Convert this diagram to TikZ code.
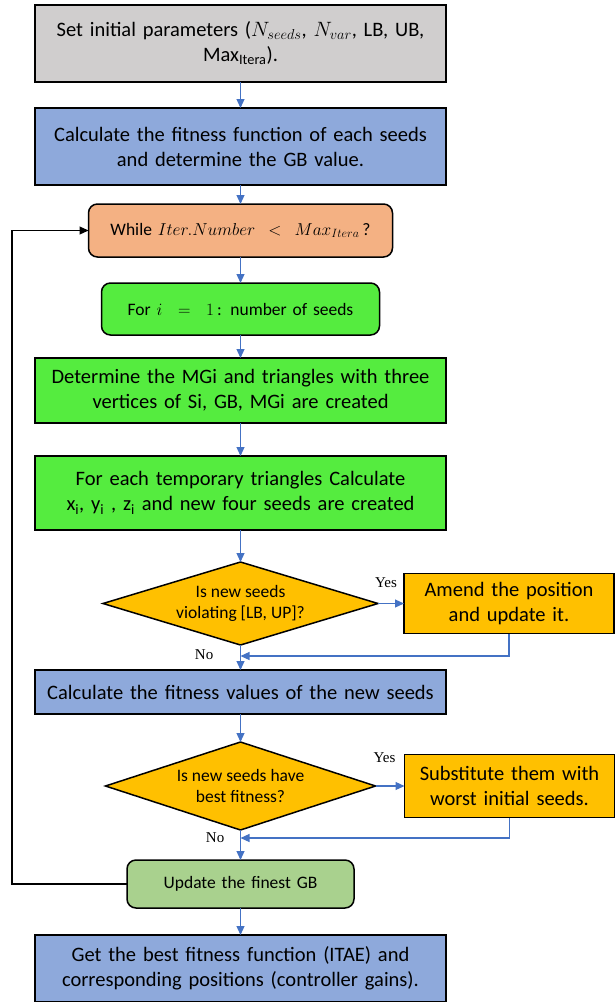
\documentclass[tikz,border=0pt]{standalone}
\usepackage{fontspec}
\setmainfont{Carlito}
\newfontfamily\serifnote{Liberation Serif}
\usepackage{tikz}
\usetikzlibrary{arrows.meta, positioning, shapes.geometric}
\definecolor{initgrey}{HTML}{D0CECE}
\definecolor{calcblue}{HTML}{8EA9DB}
\definecolor{loopsalmon}{HTML}{F4B183}
\definecolor{seedgreen}{HTML}{55EC3F}
\definecolor{checkamber}{HTML}{FFC000}
\definecolor{updategreen}{HTML}{A9D18E}
\definecolor{arrowblue}{HTML}{4472C4}
\tikzset{
  box/.style={draw=black, line width=1.5pt, align=center, inner sep=4pt,
              outer sep=0pt, font=\fontsize{20.5}{25}\selectfont,
              text width=403pt, minimum height=44pt},
  greybox/.style={box, fill=initgrey},
  bluebox/.style={box, fill=calcblue},
  greenbox/.style={box, fill=seedgreen},
  roundbox/.style={box, rounded corners=9pt, font=\fontsize{17.5}{21}\selectfont},
  actbox/.style={box, fill=checkamber, text width=202pt},
  decision/.style={diamond, draw=black, line width=1.5pt, fill=checkamber,
              aspect=3, inner sep=0pt, outer sep=0pt, align=center,
              font=\fontsize{17.5}{21}\selectfont},
  flow/.style={-{Triangle[length=9pt, width=8pt]}, line width=1.2pt, draw=arrowblue},
  loopback/.style={-{Triangle[length=9pt, width=8pt]}, line width=1.2pt, draw=black},
  lbl/.style={font=\serifnote\fontsize{15}{17}\selectfont, fill=white, inner sep=2pt},
}

\begin{document}
\begin{tikzpicture}[x=1pt, y=1pt]
  \path[use as bounding box] (0,0) rectangle (616,-1002);

  % Initialisation
  \node[greybox, minimum height=77pt] (init) at (240.5,-43.5)
    {Set initial parameters ($N_{seeds}$, $N_{var}$, LB, UB,\\
     Max\textsubscript{Itera}).};
  \node[bluebox, minimum height=77pt, below=26pt of init] (fit)
    {Calculate the fitness function of each seeds\\
     and determine the GB value.};

  % Main loop
  \node[roundbox, fill=loopsalmon, text width=296pt, minimum height=53pt,
        below=19pt of fit] (while)
    {While $Iter.Number\ <\ Max_{Itera}$\,?};
  \node[roundbox, fill=seedgreen, text width=270pt, minimum height=52pt,
        below=26pt of while] (fori)
    {For $i\;=\;1$\,: number of seeds};
  \node[greenbox, minimum height=65pt, below=23pt of fori] (tri)
    {Determine the $\mathrm{MGi}$ and triangles with three\\
     vertices of Si, GB, $\mathrm{MGi}$ are created};
  \node[greenbox, minimum height=74pt, below=33pt of tri] (newseeds)
    {For each temporary triangles Calculate\\
     $\mathrm{x_i}$, $\mathrm{y_i}$ , $\mathrm{z_i}$ and new four seeds are created};

  % Bound check
  \node[decision, minimum width=275pt, minimum height=83pt,
        below=32pt of newseeds] (bound) {Is new seeds\\violating [LB, UP]?};
  \node[actbox, minimum height=60pt, right=26pt of bound] (amend)
    {Amend the position\\and update it.};
  \node[bluebox, minimum height=44pt, below=25pt of bound] (newfit)
    {Calculate the fitness values of the new seeds};

  % Fitness check
  \node[decision, minimum width=270pt, minimum height=88pt,
        below=28pt of newfit] (better) {Is new seeds have\\best fitness?};
  \node[actbox, minimum height=63pt, right=29pt of better] (subst)
    {Substitute them with\\worst initial seeds.};
  \node[roundbox, fill=updategreen, text width=219pt, minimum height=48pt,
        below=30pt of better] (update) {Update the finest GB};
  \node[bluebox, minimum height=67pt, below=27pt of update] (result)
    {Get the best fitness function (ITAE) and\\
     corresponding positions (controller gains).};

  % Yes / No labels
  \node[lbl, above=14pt of bound.east, xshift=8pt] (yesbound) {Yes};
  \node[lbl, below left=2pt and 25pt of bound.south] (nobound) {No};
  \node[lbl, above=21pt of better.east, xshift=9pt] (yesbetter) {Yes};
  \node[lbl, below left=0pt and 14pt of better.south] (nobetter) {No};

  % Connectors
  \draw[flow] (init) -- (fit);
  \draw[flow] (fit) -- (while);
  \draw[flow] (while) -- (fori);
  \draw[flow] (fori) -- (tri);
  \draw[flow] (tri) -- (newseeds);
  \draw[flow] (newseeds) -- (bound);
  \draw[flow] (bound) -- (amend);
  \draw[flow] (bound) -- (newfit);
  \coordinate[below=11pt of bound.south] (boundjoin);
  \draw[flow] (amend.south) |- (boundjoin);
  \draw[flow] (newfit) -- (better);
  \draw[flow] (better) -- (subst);
  \draw[flow] (better) -- (update);
  \coordinate[below=8pt of better.south] (betterjoin);
  \draw[flow] (subst.south) |- (betterjoin);
  \draw[flow] (update) -- (result);

  % Loop back to the while test
  \coordinate[left=115pt of update.west] (loopcorner);
  \draw[loopback] (update.west) -- (loopcorner) |- (while.west);
\end{tikzpicture}
\end{document}
